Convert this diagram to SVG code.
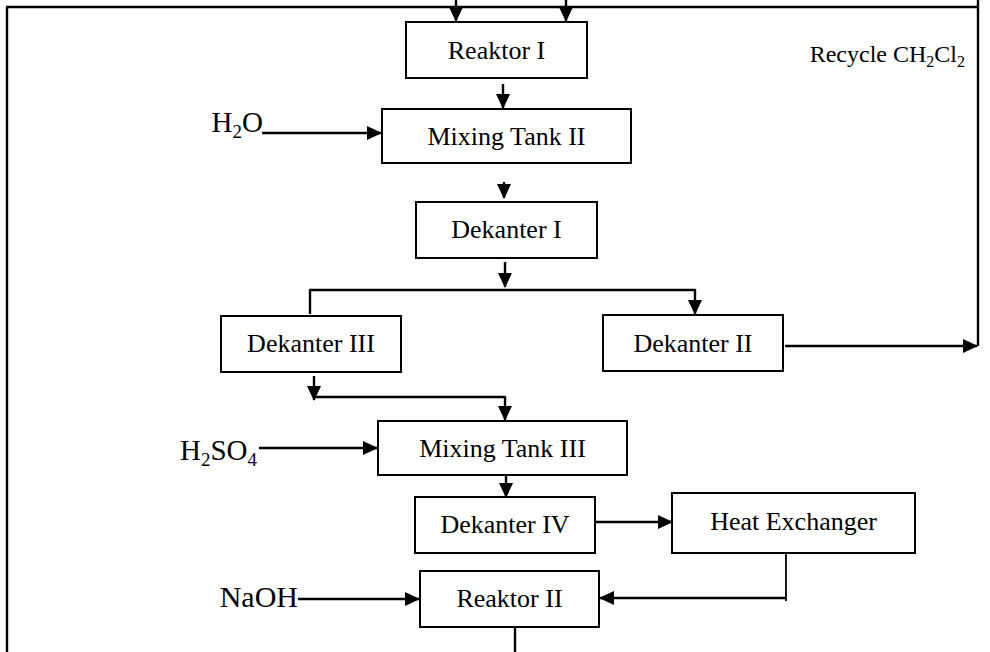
<svg xmlns="http://www.w3.org/2000/svg" width="990" height="652" viewBox="0 0 990 652">
<style>
.box{fill:#fff;stroke:#000;stroke-width:2}
.lbl{font-family:"Liberation Serif","Times New Roman",serif;font-size:26px;fill:#000;text-anchor:middle}
.feed{font-family:"Liberation Serif","Times New Roman",serif;font-size:29px;fill:#000;text-anchor:end}
.ln{fill:none;stroke:#000;stroke-width:2.4;stroke-linejoin:round}
.arr{marker-end:url(#ah)}
</style>
<defs>
<marker id="ah" markerUnits="userSpaceOnUse" markerWidth="15" markerHeight="14" refX="14" refY="7" orient="auto">
<path d="M0,0 L15,7 L0,14 z" fill="#000"/>
</marker>
</defs>
<rect width="990" height="652" fill="#fff"/>
<g id="connectors">
<path class="ln" d="M7,652 V7 H978"/>
<path class="ln" d="M978,0 V346"/>
<path class="ln arr" d="M456,0 V21"/>
<path class="ln arr" d="M566,0 V21"/>
<path class="ln arr" d="M503,84 V108"/>
<path class="ln arr" d="M262,133 H381"/>
<path class="ln arr" d="M504,182 V198"/>
<path class="ln arr" d="M505,262 V287"/>
<path class="ln arr" d="M310,314 V290 H695 V314"/>
<path class="ln arr" d="M785,346 H977"/>
<path class="ln arr" d="M314,376 V400"/>
<path class="ln arr" d="M314,397 H505 V420"/>
<path class="ln arr" d="M259,448 H377"/>
<path class="ln arr" d="M506,475 V497"/>
<path class="ln arr" d="M595,522 H672"/>
<path class="ln" style="stroke-width:1.8" d="M786,553 V601"/>
<path class="ln arr" d="M786,598 H600"/>
<path class="ln arr" d="M298,599 H419"/>
<path class="ln" d="M515,627 V652"/>
</g>
<g id="reaktor1"><rect class="box" x="406" y="22" width="181" height="56"/><text class="lbl" x="496.5" y="59">Reaktor I</text></g>
<g id="mixing2"><rect class="box" x="382" y="109" width="249" height="54"/><text class="lbl" x="506.5" y="145">Mixing Tank II</text></g>
<g id="dekanter1"><rect class="box" x="416" y="202" width="181" height="56"/><text class="lbl" x="506.5" y="238">Dekanter I</text></g>
<g id="dekanter3"><rect class="box" x="221" y="316" width="180" height="56"/><text class="lbl" x="311" y="352">Dekanter III</text></g>
<g id="dekanter2"><rect class="box" x="603" y="315" width="180" height="56"/><text class="lbl" x="693" y="352">Dekanter II</text></g>
<g id="mixing3"><rect class="box" x="378" y="421" width="249" height="54"/><text class="lbl" x="502.5" y="457">Mixing Tank III</text></g>
<g id="dekanter4"><rect class="box" x="415" y="497" width="180" height="56"/><text class="lbl" x="505" y="533">Dekanter IV</text></g>
<g id="heatexchanger"><rect class="box" x="672" y="493" width="243" height="60"/><text class="lbl" x="793.5" y="530">Heat Exchanger</text></g>
<g id="reaktor2"><rect class="box" x="420" y="571" width="179" height="56"/><text class="lbl" x="509.5" y="607">Reaktor II</text></g>
<g id="labels">
<text class="feed" x="263" y="132">H<tspan font-size="19" dy="6">2</tspan><tspan dy="-6">O</tspan></text>
<text class="feed" x="257" y="460">H<tspan font-size="19" dy="6">2</tspan><tspan dy="-6">SO</tspan><tspan font-size="19" dy="6">4</tspan></text>
<text class="feed" style="font-size:30px" x="298" y="607">NaOH</text>
<text class="feed" style="font-size:24px" x="965" y="62">Recycle CH<tspan font-size="16" dy="5">2</tspan><tspan dy="-5">Cl</tspan><tspan font-size="16" dy="5">2</tspan></text>
</g>
</svg>
